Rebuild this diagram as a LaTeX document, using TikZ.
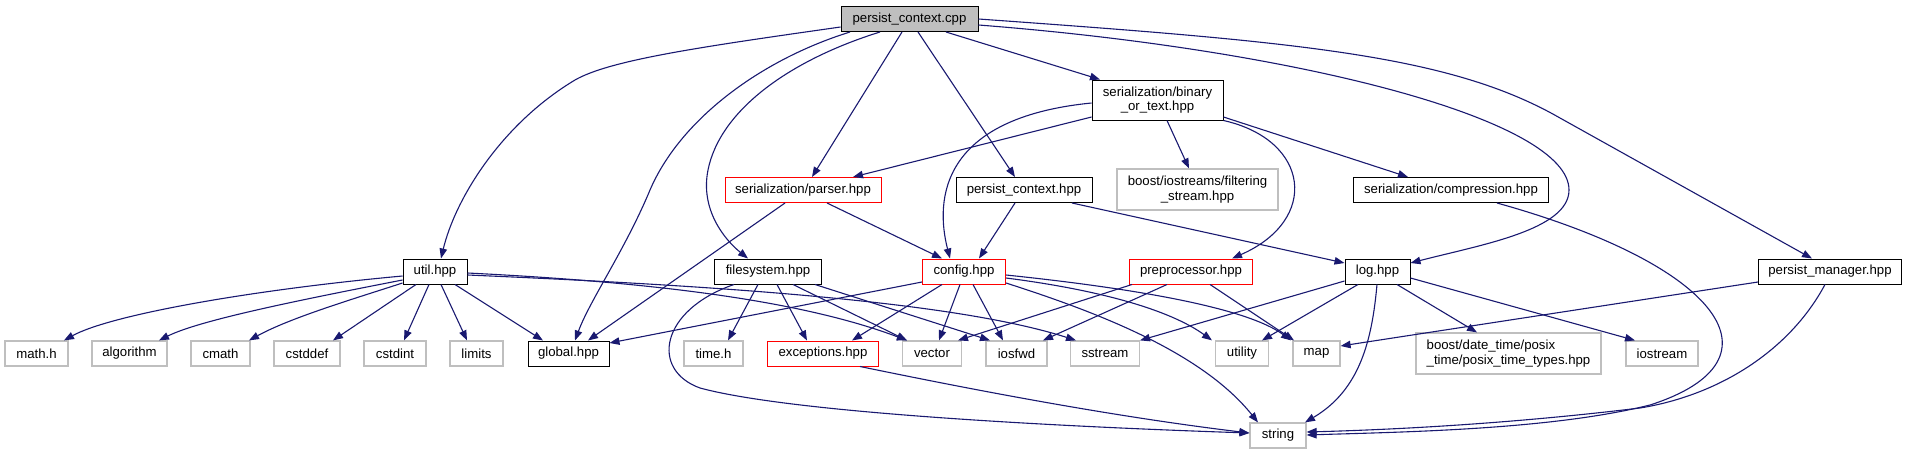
\documentclass[tikz,border=0pt]{standalone}
\usepackage{fontspec}
\setmainfont{Liberation Sans}
\usetikzlibrary{arrows.meta}
\definecolor{edgeblue}{HTML}{191970}
\definecolor{boxgray}{HTML}{BFBFBF}
\tikzset{
  incl/.style={draw=edgeblue, line width=1.1pt, -{Triangle[length=10pt,width=7.5pt]}},
  filebox/.style={draw=black, fill=white, line width=1pt, minimum height=25pt, inner sep=2pt,
    font=\fontsize{13.2}{14.7}\selectfont},
  redbox/.style={filebox, draw=red},
  sysbox/.style={filebox, draw=boxgray, line width=1.2pt},
  rootbox/.style={filebox, fill=boxgray}
}
\begin{document}
\begin{tikzpicture}[x=1pt,y=-1pt]
\useasboundingbox (0,0) rectangle (1907,455);

\node[rootbox, minimum width=137pt] (pc) at (909.5,19) {persist\_context.cpp};
\node[filebox, minimum width=131pt, minimum height=40pt, align=center] (bot) at (1157.5,100) {serialization/binary\\\_or\_text.hpp};
\node[redbox, minimum width=156pt] (parser) at (803,190) {serialization/parser.hpp};
\node[filebox, minimum width=136pt] (pch) at (1024,190) {persist\_context.hpp};
\node[sysbox, minimum width=161pt, minimum height=41pt, align=center] (filt) at (1197.5,189.5) {boost/iostreams/filtering\\\_stream.hpp};
\node[filebox, minimum width=195pt] (comp) at (1451,190) {serialization/compression.hpp};

\node[filebox, minimum width=64pt] (util) at (435,271.5) {util.hpp};
\node[filebox, minimum width=107pt] (fs) at (768,271.5) {filesystem.hpp};
\node[redbox, minimum width=83pt] (config) at (964,271.5) {config.hpp};
\node[redbox, minimum width=123pt] (pp) at (1191,271.5) {preprocessor.hpp};
\node[filebox, minimum width=65pt] (log) at (1377.5,271.5) {log.hpp};
\node[filebox, minimum width=143pt] (pm) at (1830,271.5) {persist\_manager.hpp};

\node[sysbox, minimum width=63pt] (mathh) at (36.5,353.5) {math.h};
\node[sysbox, minimum width=75pt] (algorithm) at (129.5,353.5) {algorithm};
\node[sysbox, minimum width=59pt] (cmath) at (220.5,353.5) {cmath};
\node[sysbox, minimum width=66pt] (cstddef) at (307,353.5) {cstddef};
\node[sysbox, minimum width=62pt] (cstdint) at (395,353.5) {cstdint};
\node[sysbox, minimum width=53pt] (limits) at (476.5,353.5) {limits};
\node[filebox, minimum width=81pt] (global) at (568.5,353.5) {global.hpp};
\node[sysbox, minimum width=59pt] (timeh) at (713.5,353.5) {time.h};
\node[redbox, minimum width=111pt] (exc) at (823,353.5) {exceptions.hpp};
\node[sysbox, minimum width=59pt] (vector) at (932,353.5) {vector};
\node[sysbox, minimum width=61pt] (iosfwd) at (1016.5,353.5) {iosfwd};
\node[sysbox, minimum width=69pt] (sstream) at (1105,353.5) {sstream};
\node[sysbox, minimum width=53pt] (utility) at (1242,353.5) {utility};
\node[sysbox, minimum width=47pt] (map) at (1316.5,353.5) {map};
\node[sysbox, minimum width=185pt, minimum height=41pt, align=left] (datetime) at (1508.5,353.5) {boost/date\_time/posix\\\_time/posix\_time\_types.hpp};
\node[sysbox, minimum width=72pt] (iostream) at (1662,353.5) {iostream};
\node[sysbox, minimum width=56pt] (string) at (1278,435.5) {string};

\draw[incl] (pc.west |- 0,27) .. controls (700,47) and (610,60) .. (575,80) .. controls (500,125) and (455,200) .. (util.north -| 441,0);
\draw[incl] (pc.south -| 850,0) .. controls (760,60) and (680,120) .. (650,190) .. controls (625,250) and (590,300) .. (global.north -| 575,0);
\draw[incl] (pc.south -| 880,0) .. controls (790,60) and (720,110) .. (708,170) .. controls (700,210) and (725,240) .. (fs.north -| 748,0);
\draw[incl] (pc.south -| 902,0) -- (parser.north -| 812,0);
\draw[incl] (pc.south -| 918,0) -- (pch.north -| 1015,0);
\draw[incl] (pc.south -| 946,0) -- (bot.north -| 1100,0);
\draw[incl] (pc.east |- 0,25) .. controls (1300,50) and (1569,120) .. (1569,190) .. controls (1569,230) and (1480,245) .. (log.east |- 0,263);
\draw[incl] (pc.east |- 0,19) .. controls (1300,42) and (1450,55) .. (1560,118) -- (pm.north -| 1812,0);

\draw[incl] (bot.west |- 0,117) -- (parser.north -| 853,0);
\draw[incl] (bot.west |- 0,103) .. controls (940,118) and (935,200) .. (config.north -| 950,0);
\draw[incl] (bot.south -| 1167,0) -- (filt.north -| 1189,0);
\draw[incl] (bot.south east) .. controls (1310,140) and (1320,220) .. (pp.north -| 1232,0);
\draw[incl] (bot.east |- 0,117) -- (comp.north -| 1408,0);

\draw[incl] (parser.south -| 785,0) -- (global.north -| 588,0);
\draw[incl] (parser.south -| 827,0) -- (config.north -| 942,0);
\draw[incl] (pch.south -| 1015,0) -- (config.north -| 979,0);
\draw[incl] (pch.south -| 1072,0) -- (log.west |- 0,263);
\draw[incl] (comp.south -| 1497,0) .. controls (1720,265) and (1790,360) .. (1650,405) .. controls (1550,430) and (1400,432) .. (string.east |- 0,435);

\draw[incl] (util.west |- 0,276) .. controls (250,290) and (110,315) .. (mathh.north -| 64,0);
\draw[incl] (util.west |- 0,280) .. controls (300,300) and (200,320) .. (algorithm.north -| 159,0);
\draw[incl] (util.west |- 0,283) .. controls (350,300) and (290,318) .. (cmath.north -| 249,0);
\draw[incl] (util.south -| 416,0) -- (cstddef.north -| 333,0);
\draw[incl] (util.south -| 429,0) -- (cstdint.north -| 404,0);
\draw[incl] (util.south -| 441,0) -- (limits.north -| 467,0);
\draw[incl] (util.south -| 455,0) -- (global.north -| 543,0);
\draw[incl] (util.east |- 0,273) .. controls (650,282) and (800,300) .. (vector.north -| 907,0);
\draw[incl] (util.east |- 0,275) .. controls (700,285) and (950,300) .. (sstream.north -| 1076,0);

\draw[incl] (fs.south -| 758,0) -- (timeh.north -| 728,0);
\draw[incl] (fs.south -| 777,0) -- (exc.north -| 807,0);
\draw[incl] (fs.south -| 793,0) -- (vector.north -| 907,0);
\draw[incl] (fs.south -| 815,0) -- (iosfwd.north -| 990,0);
\draw[incl] (fs.south -| 734,0) .. controls (660,310) and (650,370) .. (700,388) .. controls (800,415) and (1100,428) .. (string.west |- 0,433);

\draw[incl] (config.west |- 0,282) -- (global.east |- 0,343);
\draw[incl] (config.south -| 942,0) -- (exc.north -| 852,0);
\draw[incl] (config.south -| 960,0) -- (vector.north -| 939,0);
\draw[incl] (config.south -| 973,0) -- (iosfwd.north -| 1003,0);
\draw[incl] (config.east |- 0,278) .. controls (1100,290) and (1170,310) .. (utility.north -| 1212,0);
\draw[incl] (config.east |- 0,275) .. controls (1150,290) and (1250,310) .. (map.north -| 1291,0);
\draw[incl] (config.east |- 0,283) .. controls (1090,310) and (1200,350) .. (string.north -| 1258,0);

\draw[incl] (pp.south -| 1132,0) -- (vector.north -| 958,0);
\draw[incl] (pp.south -| 1167,0) -- (iosfwd.north -| 1043,0);
\draw[incl] (pp.south -| 1210,0) -- (map.north -| 1294,0);

\draw[incl] (log.west |- 0,281) -- (sstream.north -| 1140,0);
\draw[incl] (log.south -| 1358,0) -- (utility.north -| 1262,0);
\draw[incl] (log.south -| 1397,0) -- (datetime.north -| 1477,0);
\draw[incl] (log.east |- 0,278) -- (iostream.north -| 1635,0);
\draw[incl] (log.south -| 1377,0) .. controls (1372,340) and (1360,390) .. (string.north -| 1305,0);

\draw[incl] (pm.west |- 0,282) -- (map.east |- 0,346);
\draw[incl] (pm.south -| 1825,0) .. controls (1790,350) and (1720,395) .. (1640,408) .. controls (1500,425) and (1380,430) .. (string.east |- 0,432);
\draw[incl] (exc.south -| 860,0) .. controls (950,385) and (1100,415) .. (string.west |- 0,433);
\end{tikzpicture}
\end{document}
